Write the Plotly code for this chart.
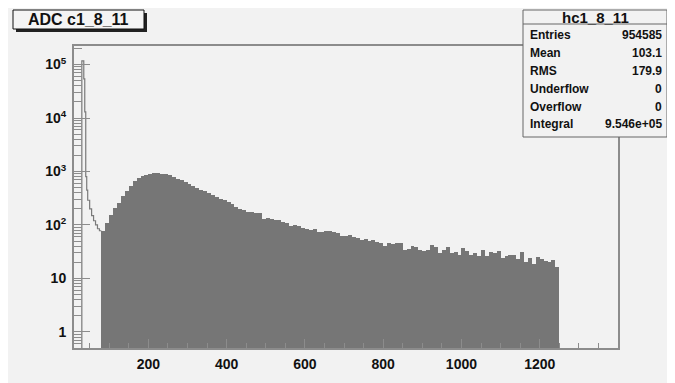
import plotly.graph_objects as go

# ---------------- data ----------------
# filled part of histogram: bins of width 10 starting at 80
fill_bin_start = 80
fill_bin_width = 10
fill_counts = [
    78, 108, 154, 205, 261, 347, 432, 543, 674, 767,
    814, 871, 910, 935, 935, 910, 887, 850, 780, 733,
    703, 646, 592, 543, 500, 458, 432, 397, 362, 338,
    310, 293, 266, 244, 220, 200, 191, 178, 173, 166,
    166, 130, 133, 131, 122, 126, 112, 108, 96, 98,
    96, 87, 83, 81, 83, 75, 75, 78, 78, 73,
    70, 62, 61, 65, 59, 56, 52, 54, 50, 53,
    49, 47, 41, 47, 44, 47, 46, 34, 35, 41,
    38, 34, 33, 34, 42, 38, 30, 34, 38, 30,
    31, 28, 37, 33, 28, 30, 26, 34, 26, 31,
    30, 33, 24, 26, 27, 27, 23, 31, 20, 24,
    19, 25, 23, 21.5, 20, 22, 16.6,
]
# pedestal peak, drawn as outline only
peak_edges = [30, 35, 37.5, 40, 42.5, 45, 50, 55, 60, 65, 70, 75, 80]
peak_counts = [117000, 54000, 13000, 800, 450, 290, 200, 150, 120, 100, 85, 78]

x_tickvals = [200, 400, 600, 800, 1000, 1200]
y_tickvals = [1, 10, 100, 1000, 10000, 100000]
y_ticktext = ["1", "10", "10<sup>2</sup>", "10<sup>3</sup>", "10<sup>4</sup>", "10<sup>5</sup>"]

X_RANGE = [10, 1400]
Y_RANGE_LOG = [-0.3, 5.346]

title_text = "ADC c1_8_11"
stats_title = "hc1_8_11"
stats_labels = ["Entries", "Mean", "RMS", "Underflow", "Overflow", "Integral"]
stats_values = ["954585", "103.1", "179.9", "0", "0", "9.546e+05"]

# ---------------- layout geometry ----------------
W, H = 675, 383
OFF = 8  # page body margin
ML, MR, MT, MB = 66, 65, 38, 43
PW, PH = W - ML - MR, H - MT - MB


def px(x):
    # x in screenshot pixels -> paper coordinate
    return (x - OFF - ML) / PW


def py(y):
    return (H - MB - (y - OFF)) / PH


FONT = "Liberation Sans, Arial, Helvetica, sans-serif"
FILL = "#767676"
FRAME = "#8c8c8c"

fill_x = [fill_bin_start + fill_bin_width * (i + 0.5) for i in range(len(fill_counts))]

fig = go.Figure()
fig.add_trace(go.Bar(
    x=fill_x, y=fill_counts, width=fill_bin_width,
    marker=dict(color=FILL, line=dict(width=0)),
    hoverinfo="skip", showlegend=False,
))

line_x = [peak_edges[0]] + peak_edges
line_y = [10 ** Y_RANGE_LOG[0]] + peak_counts + [peak_counts[-1]]
fig.add_trace(go.Scatter(
    x=line_x, y=line_y, mode="lines", line=dict(color="#7a7a7a", width=1.2, shape="hv"),
    hoverinfo="skip", showlegend=False,
))

minor_y = [k * 10 ** d for d in range(-1, 6) for k in range(2, 10)]

fig.update_layout(
    width=W, height=H,
    margin=dict(l=ML, r=MR, t=MT, b=MB, pad=0),
    paper_bgcolor="#f2f2f2", plot_bgcolor="#f2f2f2",
    bargap=0, showlegend=False,
    font=dict(family=FONT, color="#111111"),
    xaxis=dict(
        range=X_RANGE, showgrid=False, zeroline=False,
        showline=True, linecolor=FRAME, linewidth=2, mirror=True,
        tickmode="array", tickvals=x_tickvals,
        ticks="inside", ticklen=9, tickcolor=FRAME, tickwidth=1,
        minor=dict(dtick=50, tick0=0, ticks="inside", ticklen=5, tickcolor=FRAME, tickwidth=1),
        tickfont=dict(size=14, family=FONT, color="#111111", weight="bold"),
        ticklabelstandoff=2,
    ),
    yaxis=dict(
        type="log", range=Y_RANGE_LOG, showgrid=False, zeroline=False,
        showline=True, linecolor=FRAME, linewidth=2, mirror=True,
        tickmode="array", tickvals=y_tickvals, ticktext=y_ticktext,
        ticks="inside", ticklen=16, tickcolor=FRAME, tickwidth=1,
        minor=dict(tickmode="array", tickvals=minor_y, ticks="inside", ticklen=8,
                   tickcolor=FRAME, tickwidth=1),
        tickfont=dict(size=14, family=FONT, color="#111111", weight="bold"),
        ticklabelstandoff=3,
    ),
)

shapes = []
# title box with shadow
shapes.append(dict(type="rect", xref="paper", yref="paper", x0=px(16), x1=px(147), y0=py(13), y1=py(32),
                   fillcolor="#222222", line=dict(width=0)))
shapes.append(dict(type="rect", xref="paper", yref="paper", x0=px(13), x1=px(144), y0=py(10), y1=py(29),
                   fillcolor="#f4f4f4", line=dict(color="#111111", width=1)))
# stats box
shapes.append(dict(type="rect", xref="paper", yref="paper", x0=px(523), x1=px(667), y0=py(10), y1=py(137),
                   fillcolor="#f2f2f2", line=dict(color="#666666", width=1)))
shapes.append(dict(type="line", xref="paper", yref="paper", x0=px(523), x1=px(667), y0=py(24), y1=py(24),
                   line=dict(color="#666666", width=1)))
fig.update_layout(shapes=shapes)

ann = []
ann.append(dict(xref="paper", yref="paper", x=px(78.5), y=py(19.5), text="<b>" + title_text + "</b>",
                showarrow=False, xanchor="center", yanchor="middle",
                font=dict(size=16, family=FONT, color="#111111")))
ann.append(dict(xref="paper", yref="paper", x=px(595), y=py(17), text="<b>" + stats_title + "</b>",
                showarrow=False, xanchor="center", yanchor="middle",
                font=dict(size=15, family=FONT, color="#111111")))
row_y = [35, 53, 71, 89, 107, 124]
for lab, val, yy in zip(stats_labels, stats_values, row_y):
    ann.append(dict(xref="paper", yref="paper", x=px(528), y=py(yy), text="<b>" + lab + "</b>",
                    showarrow=False, xanchor="left", yanchor="middle",
                    font=dict(size=12, family=FONT, color="#111111")))
    ann.append(dict(xref="paper", yref="paper", x=px(664), y=py(yy), text="<b>" + val + "</b>",
                    showarrow=False, xanchor="right", yanchor="middle",
                    font=dict(size=12, family=FONT, color="#111111")))
fig.update_layout(annotations=ann)

fig.write_html("out.html")
